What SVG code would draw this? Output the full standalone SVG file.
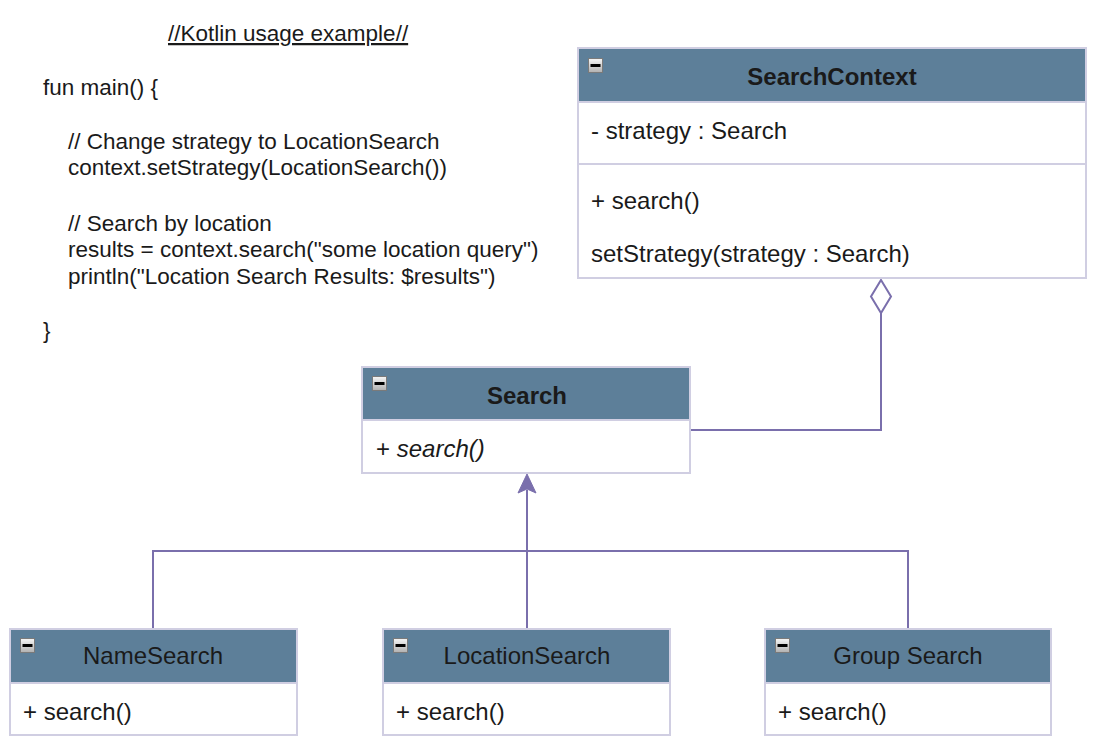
<svg xmlns="http://www.w3.org/2000/svg" width="1111" height="746" viewBox="0 0 1111 746">
<defs>
<style>
.box{fill:#ffffff;stroke:#D0CEE2;stroke-width:2}
.hdr{fill:#5D7F99;stroke:#D0CEE2;stroke-width:2}
.sep{stroke:#D0CEE2;stroke-width:2}
.t{font-family:"Liberation Sans",Arial,sans-serif;font-size:24px;fill:#1a1a1a}
.c{font-family:"Liberation Sans",Arial,sans-serif;font-size:22.5px;fill:#1a1a1a}
.title{font-family:"Liberation Sans",Arial,sans-serif;font-size:24px;fill:#1a1a1a;text-anchor:middle}
.b{font-weight:bold}
.conn{fill:none;stroke:#7A6FAC;stroke-width:2}
</style>
<linearGradient id="ig" x1="0" y1="0" x2="0" y2="1">
<stop offset="0" stop-color="#f6f6f6"/>
<stop offset="1" stop-color="#b0b0b0"/>
</linearGradient>
<g id="icon">
<rect x="0.5" y="0.5" width="14" height="14" fill="url(#ig)" stroke="#7a7a7a" stroke-width="1"/>
<rect x="2.5" y="6" width="10" height="3" fill="#000"/>
</g>
</defs>
<rect width="1111" height="746" fill="#ffffff"/>

<g id="code">
<text class="c" x="168" y="41" text-decoration="underline">//Kotlin usage example//</text>
<text class="c" x="43" y="95">fun main() {</text>
<text class="c" x="68" y="149">// Change strategy to LocationSearch</text>
<text class="c" x="68" y="175">context.setStrategy(LocationSearch())</text>
<text class="c" x="68" y="231">// Search by location</text>
<text class="c" x="68" y="257">results = context.search("some location query")</text>
<text class="c" x="68" y="284">println("Location Search Results: $results")</text>
<text class="c" x="43" y="338">}</text>
</g>

<g id="connectors">
<path class="conn" d="M881,313 L881,430 L690,430"/>
<path d="M881,280 L891,296.5 L881,313 L871,296.5 Z" fill="#ffffff" stroke="#7A6FAC" stroke-width="2"/>
<path class="conn" d="M153,629 L153,551 L908,551 L908,629"/>
<path class="conn" d="M527,629 L527,490"/>
<path d="M527,474 L536,493 L527,489 L518,493 Z" fill="#7A6FAC" stroke="#7A6FAC" stroke-width="1"/>
</g>

<g id="SearchContext">
<rect class="box" x="578" y="48" width="508" height="230"/>
<rect class="hdr" x="578" y="48" width="508" height="54"/>
<line class="sep" x1="578" y1="164" x2="1086" y2="164"/>
<use href="#icon" x="588" y="58"/>
<text class="title b" x="832" y="85">SearchContext</text>
<text class="t" x="591" y="139">- strategy : Search</text>
<text class="t" x="591" y="209">+ search()</text>
<text class="t" x="591" y="262">setStrategy(strategy : Search)</text>
</g>

<g id="Search">
<rect class="box" x="362" y="367" width="328" height="106"/>
<rect class="hdr" x="362" y="367" width="328" height="53"/>
<use href="#icon" x="372" y="376"/>
<text class="title b" x="527" y="404">Search</text>
<text class="t" x="376" y="457">+ <tspan font-style="italic">search()</tspan></text>
</g>

<g id="NameSearch">
<rect class="box" x="10" y="629" width="287" height="106"/>
<rect class="hdr" x="10" y="629" width="287" height="54"/>
<use href="#icon" x="20" y="638"/>
<text class="title" x="153" y="664">NameSearch</text>
<text class="t" x="23" y="720">+ search()</text>
</g>

<g id="LocationSearch">
<rect class="box" x="383" y="629" width="287" height="106"/>
<rect class="hdr" x="383" y="629" width="287" height="54"/>
<use href="#icon" x="393" y="638"/>
<text class="title" x="527" y="664">LocationSearch</text>
<text class="t" x="396" y="720">+ search()</text>
</g>

<g id="GroupSearch">
<rect class="box" x="765" y="629" width="286" height="106"/>
<rect class="hdr" x="765" y="629" width="286" height="54"/>
<use href="#icon" x="775" y="638"/>
<text class="title" x="908" y="664">Group Search</text>
<text class="t" x="778" y="720">+ search()</text>
</g>
</svg>
